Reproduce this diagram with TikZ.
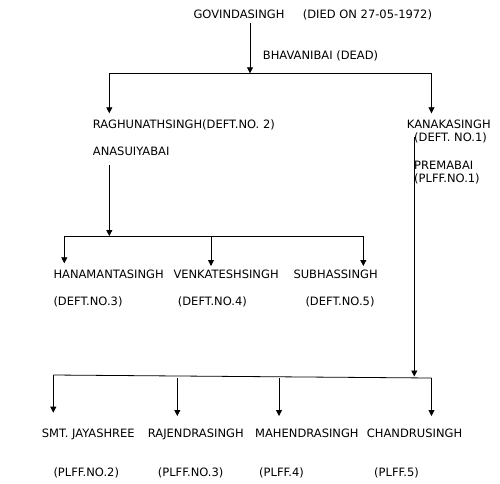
\documentclass[tikz,border=0pt]{standalone}
\usepackage{fontspec}
\setmainfont{DejaVu Sans}
\usetikzlibrary{arrows.meta}
\begin{document}
\begin{tikzpicture}[x=1pt,y=-1pt,
  lbl/.style={anchor=base west,inner sep=0pt,font=\fontsize{11.5}{13}\selectfont},
  conn/.style={line width=0.8pt,black},
  arr/.style={conn,-{Triangle[width=6pt,length=6pt]}}]
\useasboundingbox (0,0) rectangle (500,483);
% texts
\node[lbl] (gov) at (193.3,18) {GOVINDASINGH};
\node[lbl] (died) at (302.7,18) {(DIED ON 27-05-1972)};
\node[lbl] (bhav) at (262.7,59) {BHAVANIBAI (DEAD)};
\node[lbl] (ragh) at (92.7,128.5) {RAGHUNATHSINGH(DEFT.NO.~2)};
\node[lbl] (kana) at (406.7,128.5) {KANAKASINGH};
\node[lbl] (kanad) at (414,141.5) {(DEFT. NO.1)};
\node[lbl] (anas) at (92.7,155) {ANASUIYABAI};
\node[lbl] (prem) at (414,169.3) {PREMABAI};
\node[lbl] (premd) at (414,182.5) {(PLFF.NO.1)};
\node[lbl] (hana) at (53.3,278) {HANAMANTASINGH};
\node[lbl] (venk) at (173.3,278) {VENKATESHSINGH};
\node[lbl] (subh) at (293.3,278) {SUBHASSINGH};
\node[lbl] (hanad) at (53.3,305.3) {(DEFT.NO.3)};
\node[lbl] (venkd) at (177.7,305.3) {(DEFT.NO.4)};
\node[lbl] (subhd) at (305.3,305.3) {(DEFT.NO.5)};
\node[lbl] (jaya) at (41.7,437.3) {SMT. JAYASHREE};
\node[lbl] (raje) at (147.7,437.3) {RAJENDRASINGH};
\node[lbl] (mahe) at (255,437.3) {MAHENDRASINGH};
\node[lbl] (chan) at (366.7,437.3) {CHANDRUSINGH};
\node[lbl] (jayad) at (53.3,476.5) {(PLFF.NO.2)};
\node[lbl] (rajed) at (157.7,476.5) {(PLFF.NO.3)};
\node[lbl] (mahed) at (259,476.5) {(PLFF.4)};
\node[lbl] (chand) at (374,476.5) {(PLFF.5)};
% junction coordinates
\coordinate (g0) at (250,23);
\coordinate (g1) at (250,73.3);
\coordinate (t1) at (109.3,73.3);
\coordinate (t2) at (431.5,73.3);
\coordinate (t1e) at (109.3,113.3);
\coordinate (t2e) at (431.5,113.3);
\coordinate (a0) at (109.3,165);
\coordinate (a1) at (109.3,236);
\coordinate (m1) at (64.3,236);
\coordinate (m2) at (211,236);
\coordinate (m3) at (363.3,236);
\coordinate (m1e) at (64.3,263.3);
\coordinate (m2e) at (211,266);
\coordinate (m3e) at (363.3,266);
\coordinate (k0) at (414.3,136.7);
\coordinate (k1) at (414.3,376.5);
\coordinate (b1) at (53.3,375);
\coordinate (b4) at (431.5,378);
\coordinate (b2) at (177.3,378);
\coordinate (b3) at (279,378);
\coordinate (b1e) at (53.3,412.7);
\coordinate (b2e) at (177.3,416);
\coordinate (b3e) at (279,416);
\coordinate (b4e) at (431.5,416);
% connectors
\draw[arr] (g0) -- (g1);
\draw[conn] (t1) -- (t2);
\draw[arr] (t1) -- (t1e);
\draw[arr] (t2) -- (t2e);
\draw[arr] (a0) -- (a1);
\draw[conn] (m1) -- (m3);
\draw[arr] (m1) -- (m1e);
\draw[arr] (m2) -- (m2e);
\draw[arr] (m3) -- (m3e);
\draw[arr] (k0) -- (k1);
\draw[conn] (b1) -- (b4);
\draw[arr] (b1) -- (b1e);
\draw[arr] (b2) -- (b2e);
\draw[arr] (b3) -- (b3e);
\draw[arr] (b4) -- (b4e);
\end{tikzpicture}
\end{document}
